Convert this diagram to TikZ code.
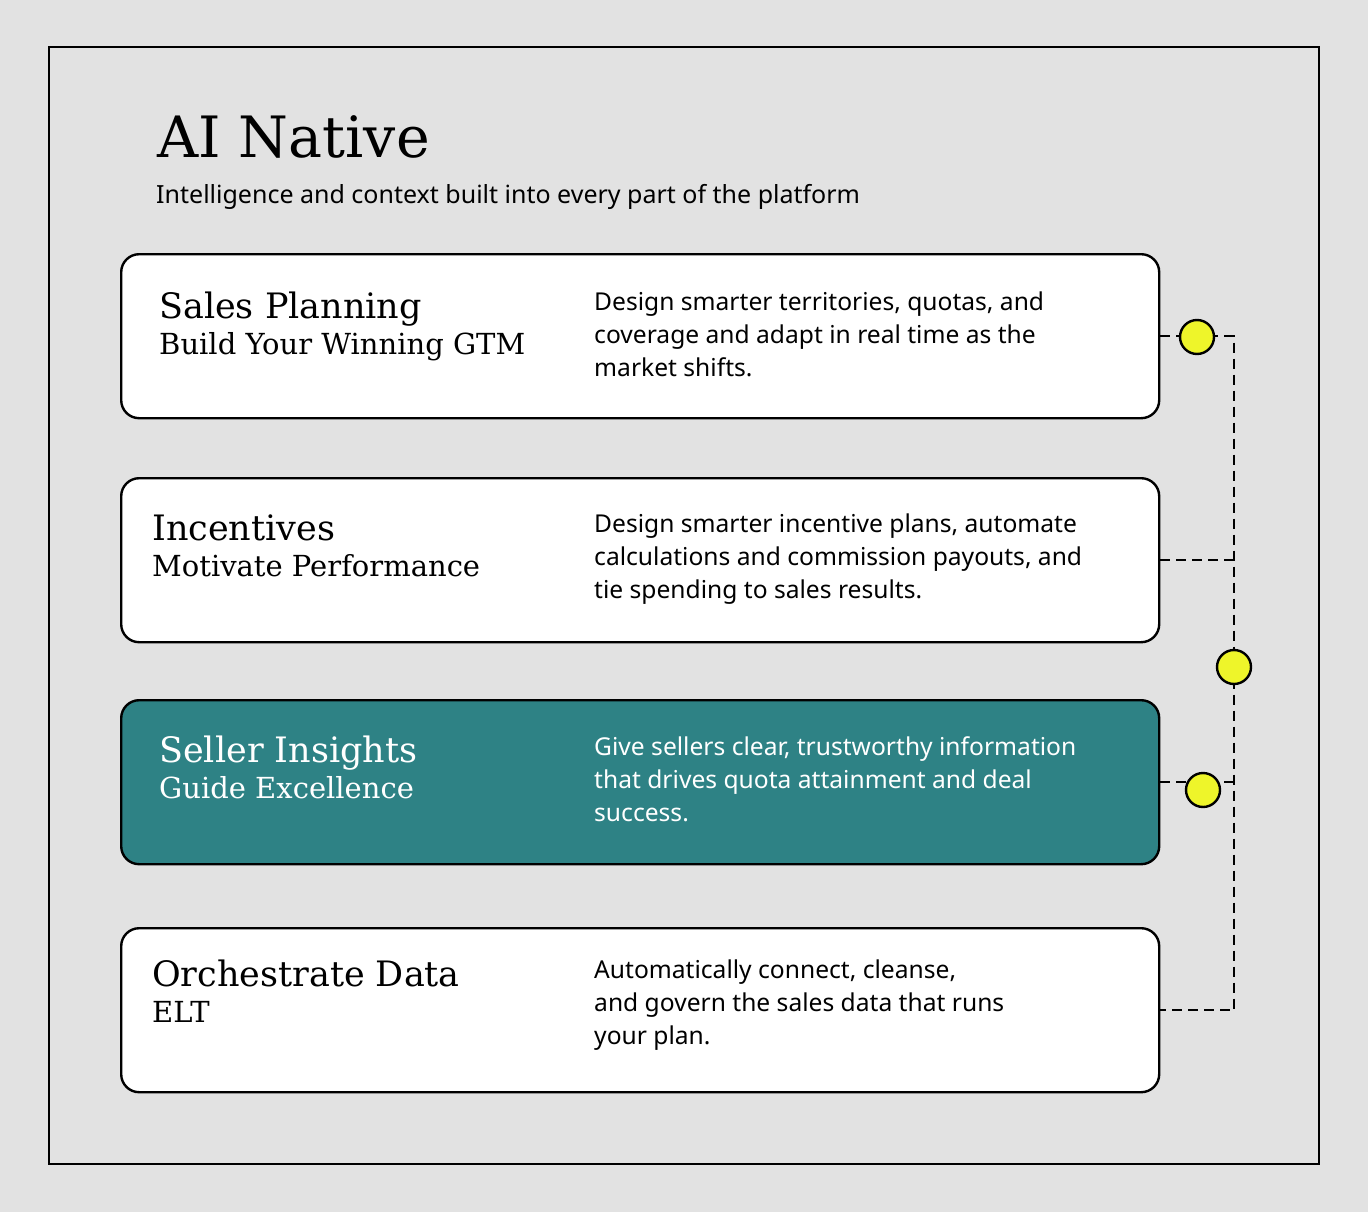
\documentclass[tikz,border=0pt]{standalone}
\usepackage{fontspec}
\setmainfont{Noto Sans}
\newfontfamily\headfont{DejaVu Serif}
\definecolor{bgGrey}{HTML}{E2E2E2}
\definecolor{tealBox}{HTML}{2E8285}
\definecolor{dotYellow}{HTML}{EEF52A}
\tikzset{
  card/.style={draw, line width=2.4pt, rounded corners=18pt, fill=white,
    minimum width=1038pt, minimum height=164pt, anchor=north west, inner sep=0pt},
  head/.style={anchor=north west, inner sep=0pt, align=left,
    font=\headfont\fontsize{35}{40}\selectfont},
  desc/.style={anchor=north west, inner sep=0pt, align=left,
    font=\fontsize{24.6}{33}\selectfont},
  link/.style={line width=2.4pt, dash pattern=on 10pt off 6pt},
  dot/.style={circle, draw, line width=2.4pt, fill=dotYellow, minimum size=34pt, inner sep=0pt}
}
\begin{document}
\begin{tikzpicture}[x=1pt,y=1pt,yscale=-1]
\fill[bgGrey] (0,0) rectangle (1368,1212);
\useasboundingbox (0,0) rectangle (1368,1212);
\draw[line width=2.6pt] (49,47) rectangle (1319,1164);

% Title
\node[anchor=west, inner sep=0pt, font=\headfont\fontsize{57}{62}\selectfont] (title) at (157,137) {AI Native};
\node[anchor=west, inner sep=0pt, font=\fontsize{25}{30}\selectfont] (subtitle) at (156,197) {Intelligence and context built into every part of the platform};

% Cards
\node[card] (plan) at (120,253) {};
\node[card] (incent) at (120,477) {};
\node[card, fill=tealBox] (insight) at (120,699) {};
\node[card] (data) at (120,927) {};

% Card texts
\node[head] (planHead) at (159,292) {Sales Planning\\[-4pt]{\fontsize{29}{34}\selectfont Build Your Winning GTM}};
\node[desc] (planDesc) at (594,292) {Design smarter territories, quotas, and\\coverage and adapt in real time as the\\market shifts.};
\node[head] (incentHead) at (152,515) {Incentives\\[-4pt]{\fontsize{29}{34}\selectfont Motivate Performance}};
\node[desc] (incentDesc) at (594,514) {Design smarter incentive plans, automate\\calculations and commission payouts, and\\tie spending to sales results.};
\node[head, text=white] (insightHead) at (159,736) {Seller Insights\\[-4pt]{\fontsize{29}{34}\selectfont Guide Excellence}};
\node[desc, text=white] (insightDesc) at (594,736) {Give sellers clear, trustworthy information\\that drives quota attainment and deal\\success.};
\node[head] (dataHead) at (152,960) {Orchestrate Data\\[-4pt]{\fontsize{29}{34}\selectfont ELT}};
\node[desc] (dataDesc) at (594,960) {Automatically connect, cleanse,\\and govern the sales data that runs\\your plan.};

% Connector
\coordinate (rail) at (1234,667);
\draw[link] (plan.east) -- (plan.east -| rail) -- (data.east -| rail) -- (data.east);
\draw[link] (incent.east) -- (incent.east -| rail);
\draw[link] (insight.east) -- (insight.east -| rail);
\node[dot] (dotPlan) at (1197,337) {};
\node[dot] (dotRail) at (rail) {};
\node[dot] (dotInsight) at (1203,790) {};
\end{tikzpicture}
\end{document}
